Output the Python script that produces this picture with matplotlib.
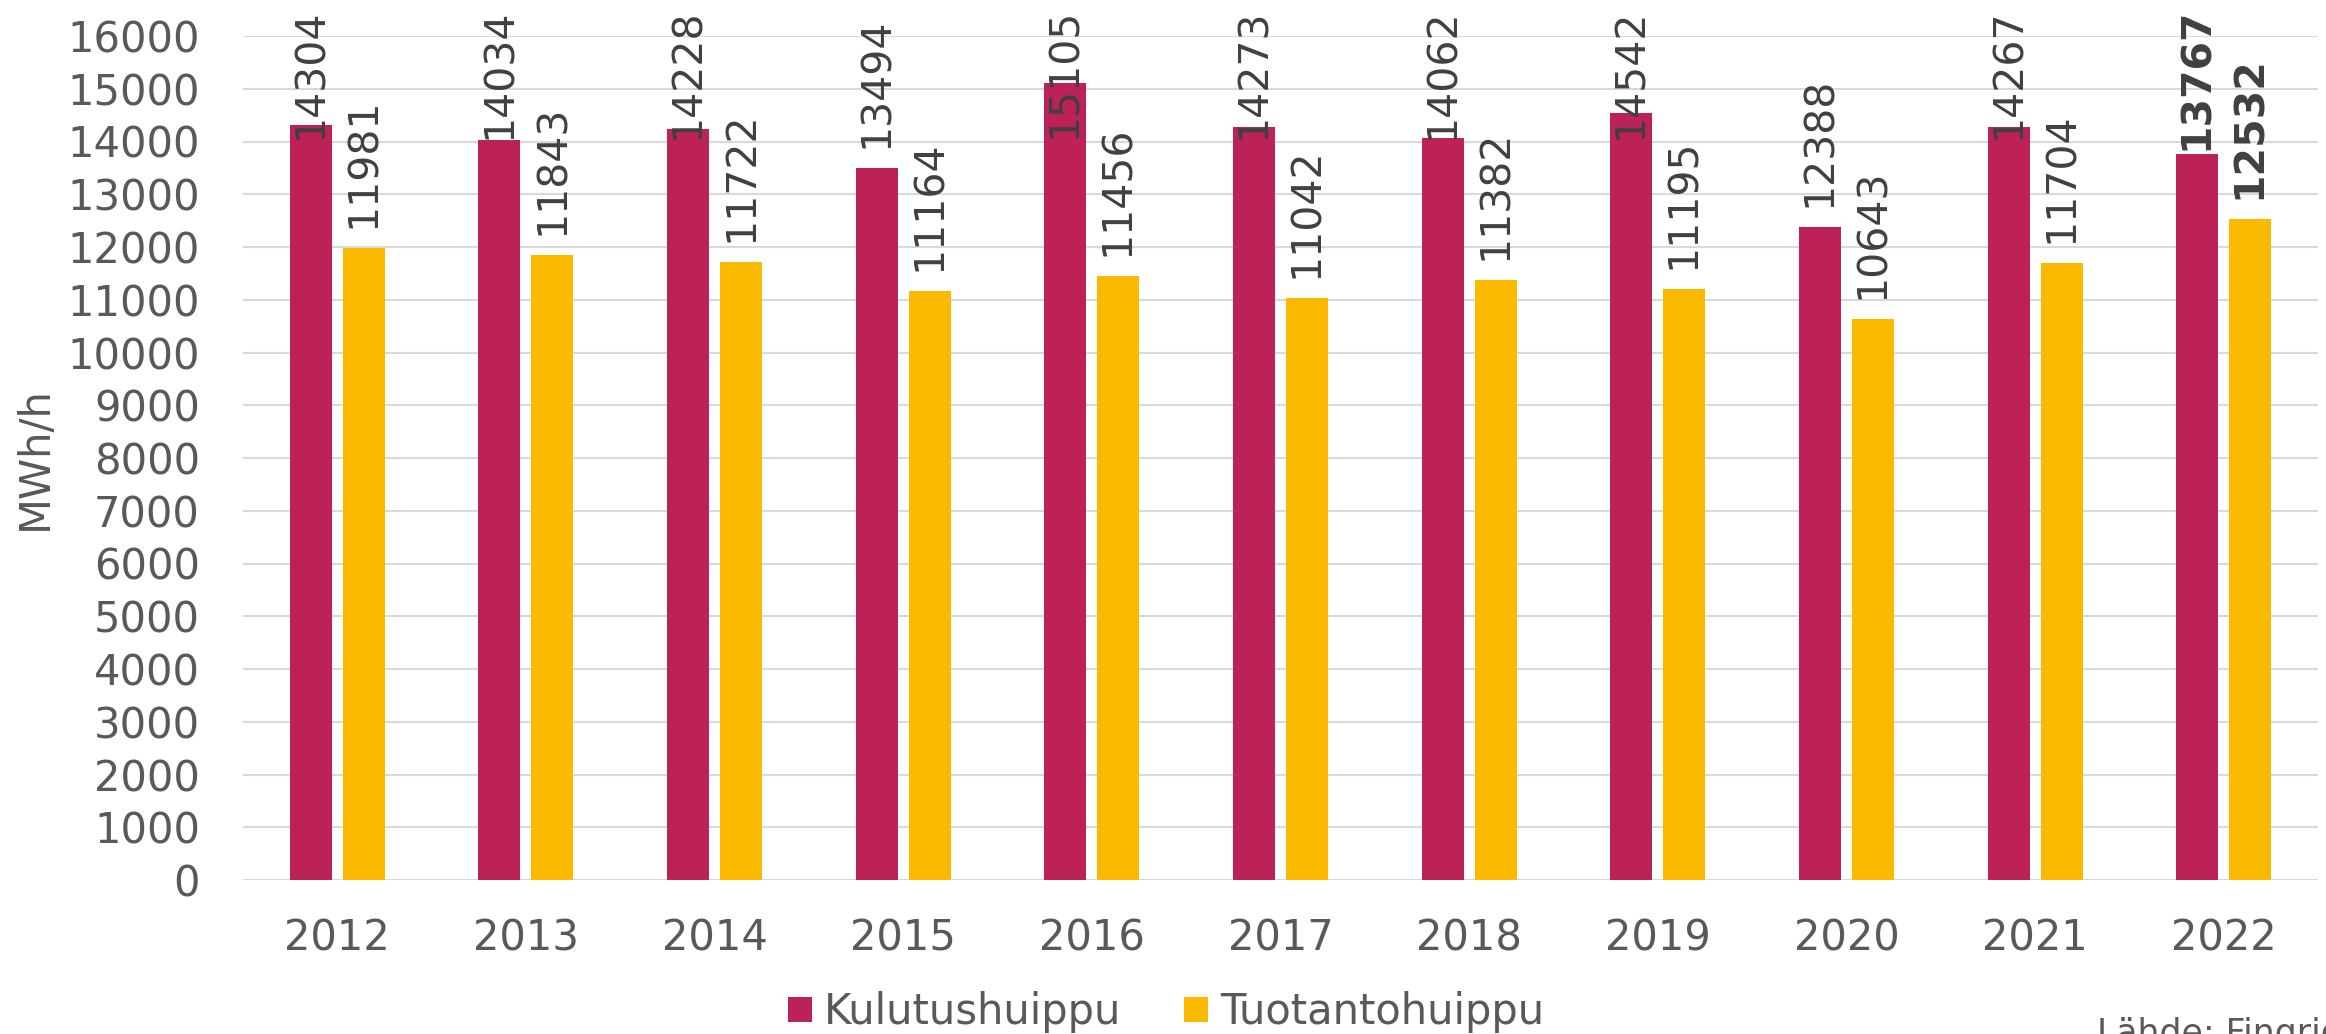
import matplotlib.pyplot as plt
import numpy as np

years = ["2012", "2013", "2014", "2015", "2016", "2017", "2018", "2019", "2020", "2021", "2022"]
kulutus = [14304, 14034, 14228, 13494, 15105, 14273, 14062, 14542, 12388, 14267, 13767]
tuotanto = [11981, 11843, 11722, 11164, 11456, 11042, 11382, 11195, 10643, 11704, 12532]
series_names = ["Kulutushuippu", "Tuotantohuippu"]
source_text = "Lähde: Fingrid"

RED = "#bc2257"
YELLOW = "#fbb900"
GRAY = "#595959"
DARK = "#404040"

plt.rcParams['font.family'] = ['DejaVu Sans']

W, H = 2326, 1034
fig = plt.figure(figsize=(W / 100, H / 100), dpi=100)
ax = fig.add_axes([243 / W, 1 - 880 / H, (2318 - 243) / W, (880 - 36) / H])

x = np.arange(len(years))
bw = 0.223
off = 0.1405
b1 = ax.bar(x - off, kulutus, bw, color=RED, label=series_names[0], zorder=3)
b2 = ax.bar(x + off, tuotanto, bw, color=YELLOW, label=series_names[1], zorder=3)

ax.set_xlim(-0.5, len(years) - 0.5)
ax.set_ylim(0, 16000)
ax.set_yticks(np.arange(0, 16001, 1000))
ax.set_xticks(x)
ax.set_xticklabels(years)
ax.tick_params(axis='both', length=0, labelsize=30, labelcolor=GRAY)
ax.tick_params(axis='y', pad=31)
ax.tick_params(axis='x', pad=27)
ax.grid(axis='y', color='#d9d9d9', linewidth=1.5, zorder=0)
for s in ax.spines.values():
    s.set_visible(False)
ax.set_ylabel("MWh/h", fontsize=30, color=GRAY, labelpad=8)

# data labels, rotated; pushed down when they would run off the top
labels = []
last = len(years) - 1
for i in range(len(years)):
    for xs, vals in ((x - off, kulutus), (x + off, tuotanto)):
        bold = (i == last)
        t = ax.text(xs[i], vals[i], str(vals[i]), rotation=90, ha='center', va='bottom',
                    fontsize=29.5, color=DARK, fontweight='bold' if bold else 'normal',
                    clip_on=False, zorder=4)
        labels.append((t, xs[i], vals[i]))

fig.canvas.draw()
renderer = fig.canvas.get_renderer()
inv = ax.transData.inverted()
gap_px = 20
top_px = H - 8
for t, xv, v in labels:
    h_px = t.get_window_extent(renderer).height
    bar_top = ax.transData.transform((xv, v))[1]
    bottom = min(bar_top + gap_px, top_px - h_px)
    t.set_position((xv, inv.transform((0, bottom))[1]))

leg = fig.legend(handles=[b1, b2], loc='center', bbox_to_anchor=(1166 / W, 1 - 1012 / H),
                 ncol=2, frameon=False, fontsize=30, handlelength=0.58, handleheight=0.55,
                 handletextpad=0.29, columnspacing=1.5, borderaxespad=0)
for txt in leg.get_texts():
    txt.set_color(GRAY)

fig.text(2097 / W, 1 - 1017 / H, source_text, ha='left', va='top', fontsize=25, color=GRAY)

fig.savefig("out.png", dpi=100)
